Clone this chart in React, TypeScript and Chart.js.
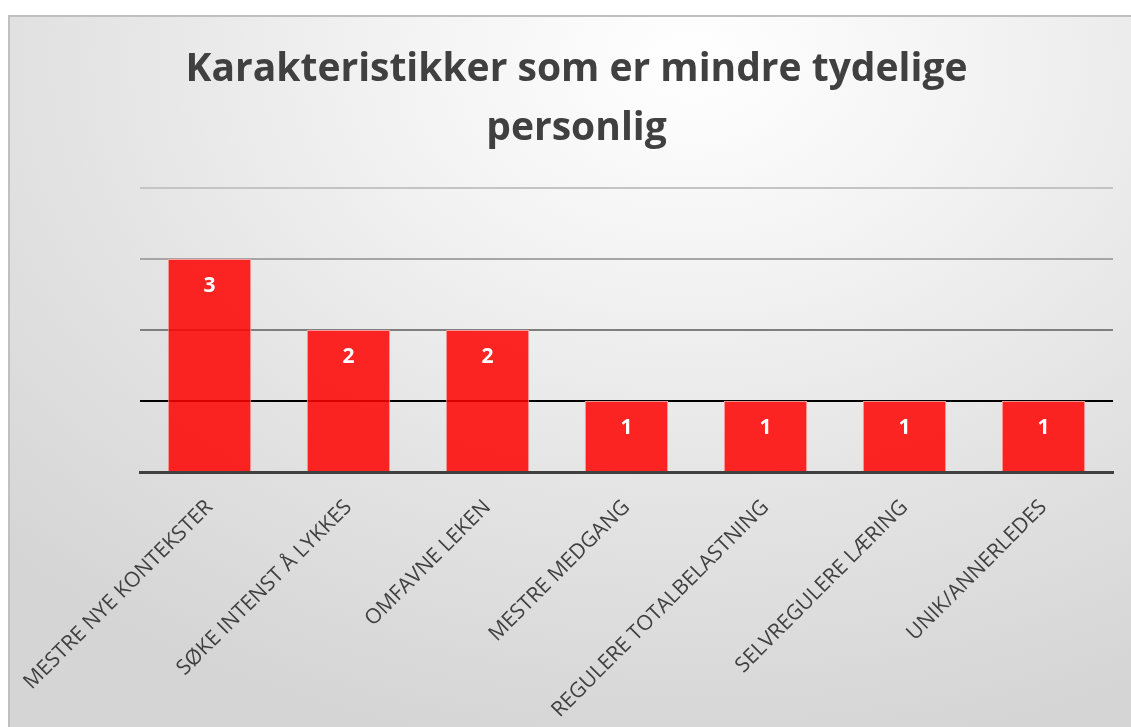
import React, { useEffect, useRef } from "react";
import { Chart, registerables } from "chart.js";

Chart.register(...registerables);

const categories = [
  "MESTRE NYE KONTEKSTER",
  "SØKE INTENST Å LYKKES",
  "OMFAVNE LEKEN",
  "MESTRE MEDGANG",
  "REGULERE TOTALBELASTNING",
  "SELVREGULERE LÆRING",
  "UNIK/ANNERLEDES",
];
const values = [3, 2, 2, 1, 1, 1, 1];
const titleLines = ["Karakteristikker som er mindre tydelige", "personlig"];
const gridColors = ["rgba(0,0,0,0)", "#000000", "#7f7f7f", "#a6a6a6", "#c4c4c4"];

const FONT = "'Open Sans', 'Noto Sans', sans-serif";

const valueLabels = {
  id: "valueLabels",
  afterDatasetsDraw(chart: any) {
    const ctx = chart.ctx;
    const meta = chart.getDatasetMeta(0);
    ctx.save();
    ctx.fillStyle = "#ffffff";
    ctx.font = `bold 21px ${FONT}`;
    ctx.textAlign = "center";
    ctx.textBaseline = "middle";
    meta.data.forEach((bar: any, i: number) => {
      ctx.fillText(String(values[i]), bar.x, bar.y + 27);
    });
    ctx.restore();
  },
};

export default function App() {
  const ref = useRef<HTMLCanvasElement>(null);
  useEffect(() => {
    document.body.style.overflow = "hidden";
    const chart = new Chart(ref.current!, {
      type: "bar",
      data: {
        labels: categories,
        datasets: [
          {
            data: values,
            backgroundColor: "rgba(255,0,0,0.85)",
            borderColor: "rgba(255,160,160,0.9)",
            borderWidth: 1,
            barPercentage: 0.6,
            categoryPercentage: 1,
          },
        ],
      },
      options: {
        animation: false,
        responsive: true,
        maintainAspectRatio: false,
        layout: { padding: 0 },
        plugins: {
          legend: { display: false },
          tooltip: { enabled: false },
          title: {
            display: true,
            text: titleLines,
            color: "#404040",
            font: { family: FONT, size: 39, weight: "bold", lineHeight: 1.5 },
            padding: { top: 24, bottom: 30 },
          },
        },
        scales: {
          x: {
            grid: { display: false },
            border: { display: true, color: "#404040", width: 3 },
            afterFit: (s: any) => {
              s.height = 281;
              s.paddingLeft = 0;
              s.paddingRight = 0;
            },
            ticks: {
              color: "#404040",
              font: { family: FONT, size: 21 },
              minRotation: 45,
              maxRotation: 45,
              padding: 15,
              autoSkip: false,
            },
          },
          y: {
            min: 0,
            max: 4,
            afterFit: (s: any) => {
              s.width = 130;
            },
            ticks: { display: false, stepSize: 1 },
            border: { display: false },
            grid: {
              drawTicks: false,
              tickLength: 0,
              lineWidth: 2,
              color: (c: any) => gridColors[c.tick ? c.tick.value : 0] || "#c4c4c4",
            },
          },
          yRight: {
            position: "right",
            min: 0,
            max: 4,
            afterFit: (s: any) => {
              s.width = 30;
            },
            ticks: { display: false },
            border: { display: false },
            grid: { display: false, drawTicks: false },
          },
        },
      },
      plugins: [valueLabels],
    });
    return () => chart.destroy();
  }, []);

  return (
    <div
      style={{
        position: "fixed",
        left: 8,
        top: 15,
        width: 1137,
        height: 740,
        boxSizing: "border-box",
        border: "2px solid #c0c0c0",
        background:
          "radial-gradient(ellipse 85% 95% at 60% 6%, #ffffff 0%, #f3f3f3 30%, #e3e3e3 65%, #d5d5d5 100%)",
      }}
    >
      <div style={{ position: "absolute", left: 0, top: 0, width: 1133, height: 736 }}>
        <canvas ref={ref} />
      </div>
    </div>
  );
}
